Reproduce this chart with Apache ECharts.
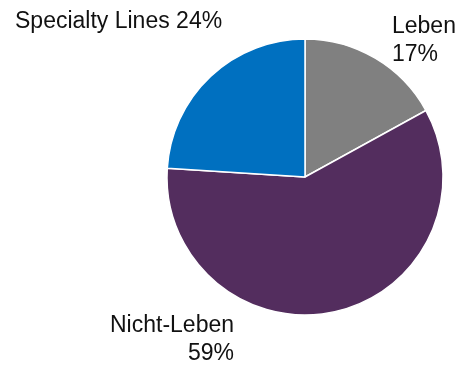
<!DOCTYPE html>
<html>
<head>
<meta charset="utf-8">
<script src="https://cdn.jsdelivr.net/npm/echarts@6/dist/echarts.min.js"></script>
<style>
html,body{margin:0;padding:0;background:#fff;}
#chart{width:460px;height:365px;}
</style>
</head>
<body>
<div id="chart"></div>
<script>
var categories = ['Leben', 'Nicht-Leben', 'Specialty Lines'];
var values = [17, 59, 24];
var colors = ['#808080', '#532D5E', '#0070C0'];

var labelPos = [
  {x: 392, y: 13, align: 'left', lineBreak: true},
  {x: 234, y: 312, align: 'right', lineBreak: true},
  {x: 15, y: 8, align: 'left', lineBreak: false}
];

var chart = echarts.init(document.getElementById('chart'), null, {renderer: 'canvas'});
var data = categories.map(function (c, i) {
  return {name: c, value: values[i], itemStyle: {color: colors[i]}};
});
chart.setOption({
  animation: false,
  series: [{
    type: 'pie',
    center: [305, 177],
    radius: 138,
    startAngle: 90,
    clockwise: true,
    avoidLabelOverlap: false,
    data: data,
    itemStyle: {borderColor: '#ffffff', borderWidth: 1.5},
    label: {
      show: true,
      position: 'outside',
      fontFamily: 'Liberation Sans, Arial, sans-serif',
      fontSize: 23,
      lineHeight: 28,
      color: '#111111',
      formatter: function (p) {
        return labelPos[p.dataIndex].lineBreak ? p.name + '\n' + p.percent.toFixed(0) + '%' : p.name + ' ' + p.percent.toFixed(0) + '%';
      }
    },
    labelLine: {show: false},
    labelLayout: function (params) {
      var lp = labelPos[params.dataIndex];
      return {x: lp.x, y: lp.y, align: lp.align, verticalAlign: 'top'};
    }
  }]
});
</script>
</body>
</html>
